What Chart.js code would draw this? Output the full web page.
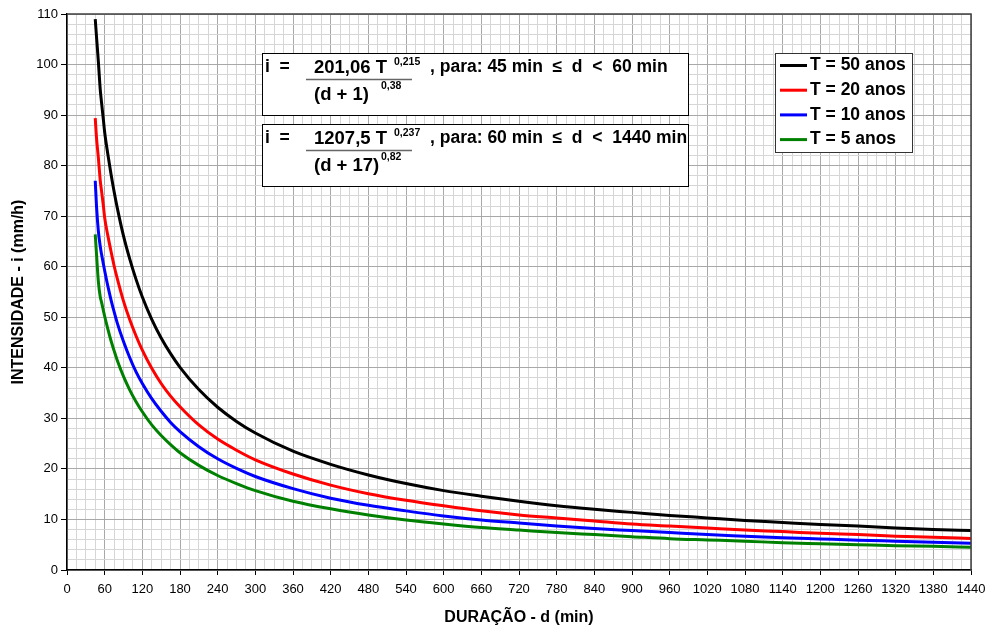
<!DOCTYPE html>
<html><head><meta charset="utf-8">
<script src="https://cdn.jsdelivr.net/npm/chart.js@4.4.1/dist/chart.umd.min.js"></script>
<style>html,body{margin:0;padding:0;background:#fff;} #wrap{position:relative;width:989px;height:627px;}</style>
</head><body><div id="wrap"><canvas id="c"></canvas></div>
<script>
// ---- data ----
const durations = [45, 47, 50, 53, 55, 58, 60, 65, 70, 75, 80, 90, 100, 110, 120, 135, 150, 165, 180, 210, 240, 270, 300, 360, 420, 480, 540, 600, 660, 720, 780, 840, 900, 960, 1020, 1080, 1140, 1200, 1260, 1320, 1380, 1440];
const i50 = [109.0, 105.5, 100.5, 95.0, 92.5, 89.0, 86.6, 82.3, 78.4, 74.9, 71.7, 66.1, 61.5, 57.5, 54.0, 49.6, 45.9, 42.8, 40.1, 35.7, 32.2, 29.4, 27.1, 23.5, 20.9, 18.8, 17.1, 15.7, 14.6, 13.6, 12.7, 12.0, 11.4, 10.8, 10.3, 9.8, 9.4, 9.0, 8.7, 8.3, 8.0, 7.8];
const i20 = [89.4, 85.5, 81.5, 77.0, 75.0, 72.0, 69.7, 66.2, 63.1, 60.2, 57.7, 53.2, 49.5, 46.3, 43.5, 39.9, 36.9, 34.4, 32.3, 28.7, 25.9, 23.7, 21.8, 19.0, 16.8, 15.1, 13.8, 12.7, 11.7, 10.9, 10.3, 9.7, 9.1, 8.7, 8.3, 7.9, 7.6, 7.25, 7.0, 6.7, 6.5, 6.25];
const i10 = [77.0, 72.0, 67.0, 64.0, 62.5, 60.5, 59.2, 56.2, 53.5, 51.1, 48.9, 45.2, 42.0, 39.2, 36.9, 33.9, 31.4, 29.2, 27.4, 24.4, 22.0, 20.1, 18.5, 16.1, 14.2, 12.8, 11.7, 10.7, 9.9, 9.3, 8.7, 8.2, 7.8, 7.4, 7.0, 6.7, 6.4, 6.15, 5.9, 5.7, 5.5, 5.3];
const i05 = [66.4, 62.5, 57.0, 54.0, 53.0, 51.3, 50.2, 47.7, 45.4, 43.4, 41.5, 38.3, 35.6, 33.3, 31.3, 28.7, 26.6, 24.8, 23.2, 20.7, 18.7, 17.1, 15.7, 13.6, 12.1, 10.9, 9.9, 9.1, 8.4, 7.9, 7.4, 7.0, 6.6, 6.2, 5.95, 5.7, 5.4, 5.2, 5.0, 4.8, 4.7, 4.5];
const seriesLabels = ['T = 50 anos', 'T = 20 anos', 'T = 10 anos', 'T = 5 anos'];
const seriesColors = ['#000000', '#ff0000', '#0000ff', '#008000'];
const xMax = 1440, xMajor = 60, xMinor = 15;
const yMax = 110, yMajor = 10, yMinor = 2;
const xTitle = 'DURAÇÃO - d (min)';
const yTitle = 'INTENSIDADE - i (mm/h)';

const FONT = '"Liberation Sans", Arial, Helvetica, sans-serif';
Chart.defaults.font.family = FONT;
Chart.defaults.color = '#000';

function txt(ctx, s, x, y, size, bold) {
  ctx.font = (bold ? 'bold ' : '') + size + 'px ' + FONT;
  ctx.textAlign = 'left';
  ctx.textBaseline = 'middle';
  ctx.fillStyle = '#000';
  ctx.fillText(s, x, y);
}

const overlay = {
  id: 'overlay',
  afterDraw(chart) {
    const ctx = chart.ctx, a = chart.chartArea;
    ctx.save();
    // top & right frame
    ctx.strokeStyle = '#404040'; ctx.lineWidth = 1.5;
    ctx.beginPath();
    ctx.moveTo(a.left, a.top); ctx.lineTo(a.right, a.top); ctx.lineTo(a.right, a.bottom);
    ctx.stroke();

    const L = a.left, T = a.top;
    // equation boxes
    const boxes = [
      {y: T + 39, num: '201,06 T', numExp: '0,215', den: '(d + 1)', denExp: '0,38', cond: ', para: 45 min  \u2264  d  <  60 min'},
      {y: T + 110, num: '1207,5 T', numExp: '0,237', den: '(d + 17)', denExp: '0,82', cond: ', para: 60 min  \u2264  d  <  1440 min'}
    ];
    boxes.forEach(b => {
      const bx = L + 195, bw = 426, bh = 62;
      ctx.fillStyle = '#fff';
      ctx.fillRect(bx, b.y, bw, bh);
      ctx.strokeStyle = '#000'; ctx.lineWidth = 1;
      ctx.strokeRect(bx + 0.5, b.y + 0.5, bw, bh);
      const cy = b.y + 14.5;
      txt(ctx, 'i  =', bx + 3, cy, 17.5, true);
      txt(ctx, b.num, bx + 52, cy, 18.5, true);
      txt(ctx, b.numExp, bx + 132, cy - 5, 10.5, true);
      ctx.strokeStyle = '#666'; ctx.lineWidth = 1.5;
      ctx.beginPath(); ctx.moveTo(bx + 44, b.y + 26.5); ctx.lineTo(bx + 150, b.y + 26.5); ctx.stroke();
      txt(ctx, b.den, bx + 52, b.y + 41.5, 18.5, true);
      txt(ctx, b.denExp, bx + 119, b.y + 33.5, 10.5, true);
      txt(ctx, b.cond, bx + 168, cy, 17.5, true);
    });

    // legend
    const lx = L + 708, ly = T + 39, lw = 137, lh = 99;
    ctx.fillStyle = '#fff';
    ctx.fillRect(lx, ly, lw, lh);
    ctx.strokeStyle = '#333'; ctx.lineWidth = 1;
    ctx.strokeRect(lx + 0.5, ly + 0.5, lw, lh);
    chart.data.datasets.forEach((ds, k) => {
      const yy = ly + 12.5 + k * 24.7;
      ctx.strokeStyle = ds.borderColor; ctx.lineWidth = 3;
      ctx.beginPath(); ctx.moveTo(lx + 5, yy); ctx.lineTo(lx + 32, yy); ctx.stroke();
      txt(ctx, ds.label, lx + 35, yy, 17.5, true);
    });
    ctx.restore();
  }
};

const datasets = [i50, i20, i10, i05].map((vals, k) => ({
  label: seriesLabels[k],
  data: durations.map((d, j) => ({x: d, y: vals[j]})),
  borderColor: seriesColors[k],
  backgroundColor: seriesColors[k],
  borderWidth: 3,
  pointRadius: 0,
  fill: false,
  cubicInterpolationMode: 'monotone'
}));

new Chart(document.getElementById('c'), {
  type: 'line',
  data: {datasets},
  options: {
    responsive: true, maintainAspectRatio: false, animation: false, devicePixelRatio: 1,
    layout: {padding: {left: 0, right: 18, top: 14, bottom: 0}},
    plugins: {legend: {display: false}, tooltip: {enabled: false}},
    scales: {
      x: {
        type: 'linear', min: 0, max: xMax,
        afterFit(s) { s.height = 57; s.paddingLeft = 0; s.paddingRight = 0; },
        ticks: {stepSize: xMinor, autoSkip: false, maxRotation: 0, minRotation: 0, padding: 7,
          font: {size: 13}, color: '#000',
          callback: v => (v % xMajor === 0 ? String(v) : '')},
        grid: {
          color: c => (c.tick && c.tick.value % xMajor === 0 ? '#a8a8a8' : '#d6d6d6'),
          tickColor: c => (c.tick && c.tick.value % xMajor === 0 ? '#000' : 'rgba(0,0,0,0)'),
          lineWidth: 1, tickLength: 5
        },
        border: {color: '#000', width: 1.5},
        title: {display: true, text: xTitle, color: '#000', font: {size: 16, weight: 'bold'}, padding: {top: 5, bottom: 0}}
      },
      y: {
        type: 'linear', min: 0, max: yMax,
        afterFit(s) { s.width = 67; s.paddingTop = 0; s.paddingBottom = 0; },
        ticks: {stepSize: yMinor, autoSkip: false, padding: 3, font: {size: 13}, color: '#000',
          callback: v => (v % yMajor === 0 ? String(v) : '')},
        grid: {
          color: c => (c.tick && c.tick.value % yMajor === 0 ? '#a8a8a8' : '#d6d6d6'),
          tickColor: c => (c.tick && c.tick.value % yMajor === 0 ? '#000' : 'rgba(0,0,0,0)'),
          lineWidth: 1, tickLength: 6
        },
        border: {color: '#000', width: 1.5},
        title: {display: true, text: yTitle, color: '#000', font: {size: 16, weight: 'bold'}, padding: {top: 9, bottom: 0}}
      }
    }
  },
  plugins: [overlay]
});
</script>
</body></html>
